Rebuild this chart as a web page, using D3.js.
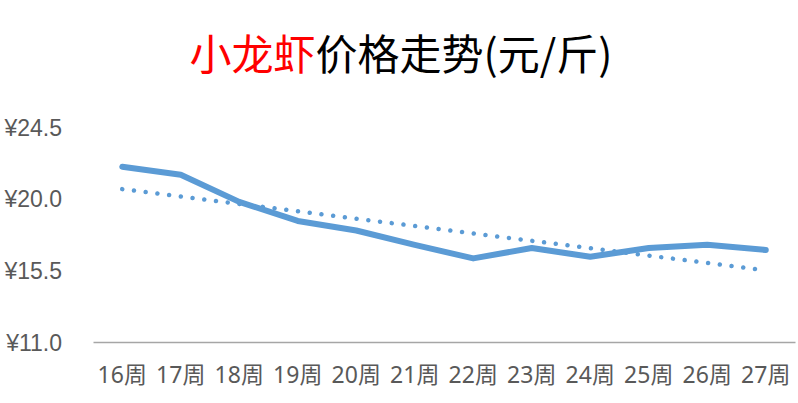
<!DOCTYPE html>
<html>
<head>
<meta charset="utf-8">
<script src="https://cdn.jsdelivr.net/npm/d3@7"></script>
<style>
  body { margin: 0; background: #fff; }
  svg { display: block; font-family: "Noto Sans", "Noto Sans CJK SC", sans-serif; }
</style>
</head>
<body>
<div id="chart"></div>
<script>
// weekly price, yuan per jin
var weeks = ['16周', '17周', '18周', '19周', '20周', '21周', '22周', '23周', '24周', '25周', '26周', '27周'];
var prices = [22.0, 21.5, 19.8, 18.6, 18.0, 17.1, 16.25, 16.9, 16.35, 16.9, 17.1, 16.78];
// linear trend line, first and last week
var trendWeeks = ['16周', '27周'];
var trendValues = [20.6, 15.5];
var yTicks = [11.0, 15.5, 20.0, 24.5];

var width = 798, height = 403;
var margin = {top: 127, right: 3, bottom: 61, left: 93};

var svg = d3.select('#chart').append('svg')
  .attr('width', width)
  .attr('height', height);

// title, first three chars in red
var title = svg.append('text')
  .attr('x', 401)
  .attr('y', 70)
  .attr('text-anchor', 'middle')
  .style('font-family', '"Noto Sans CJK SC", sans-serif')
  .style('font-size', '42px');
title.append('tspan').attr('fill', '#ff0000').text('小龙虾');
title.append('tspan').attr('fill', '#000').text('价格走势(元/斤)');

var x = d3.scaleBand()
  .domain(weeks)
  .range([margin.left, width - margin.right]);

var y = d3.scaleLinear()
  .domain([11, 24.5])
  .range([height - margin.bottom, margin.top]);

var cx = function(w) { return x(w) + x.bandwidth() / 2; };

// y axis labels only, no line
var yAxis = svg.append('g')
  .attr('transform', 'translate(62,0)')
  .call(d3.axisLeft(y).tickValues(yTicks).tickSize(0).tickPadding(0)
    .tickFormat(function(d) { return '¥' + d3.format('.1f')(d); }));
yAxis.select('.domain').remove();
yAxis.selectAll('text')
  .attr('fill', '#595959')
  .style('font-size', '23px')
  .attr('dy', '0.36em');

// x axis
var xAxis = svg.append('g')
  .attr('transform', 'translate(0,' + (height - margin.bottom) + ')')
  .call(d3.axisBottom(x).tickSize(0).tickPadding(25));
xAxis.select('.domain')
  .attr('stroke', '#a6a6a6')
  .attr('stroke-width', 1.5);
xAxis.selectAll('text')
  .attr('fill', '#595959')
  .style('font-size', '23px')
  .style('font-family', '"Noto Sans", "Noto Sans CJK SC", sans-serif');

// trend line (dotted)
var trend = trendWeeks.map(function(w, i) { return {w: w, v: trendValues[i]}; });
svg.append('path')
  .datum(trend)
  .attr('fill', 'none')
  .attr('stroke', '#5b9bd5')
  .attr('stroke-width', 4.5)
  .attr('stroke-linecap', 'round')
  .attr('stroke-dasharray', '0.01 11.8')
  .attr('d', d3.line().x(function(d) { return cx(d.w); }).y(function(d) { return y(d.v); }));

// price line
var data = weeks.map(function(w, i) { return {w: w, v: prices[i]}; });
svg.append('path')
  .datum(data)
  .attr('fill', 'none')
  .attr('stroke', '#5b9bd5')
  .attr('stroke-width', 6)
  .attr('stroke-linecap', 'round')
  .attr('stroke-linejoin', 'round')
  .attr('d', d3.line().x(function(d) { return cx(d.w); }).y(function(d) { return y(d.v); }));
</script>
</body>
</html>
